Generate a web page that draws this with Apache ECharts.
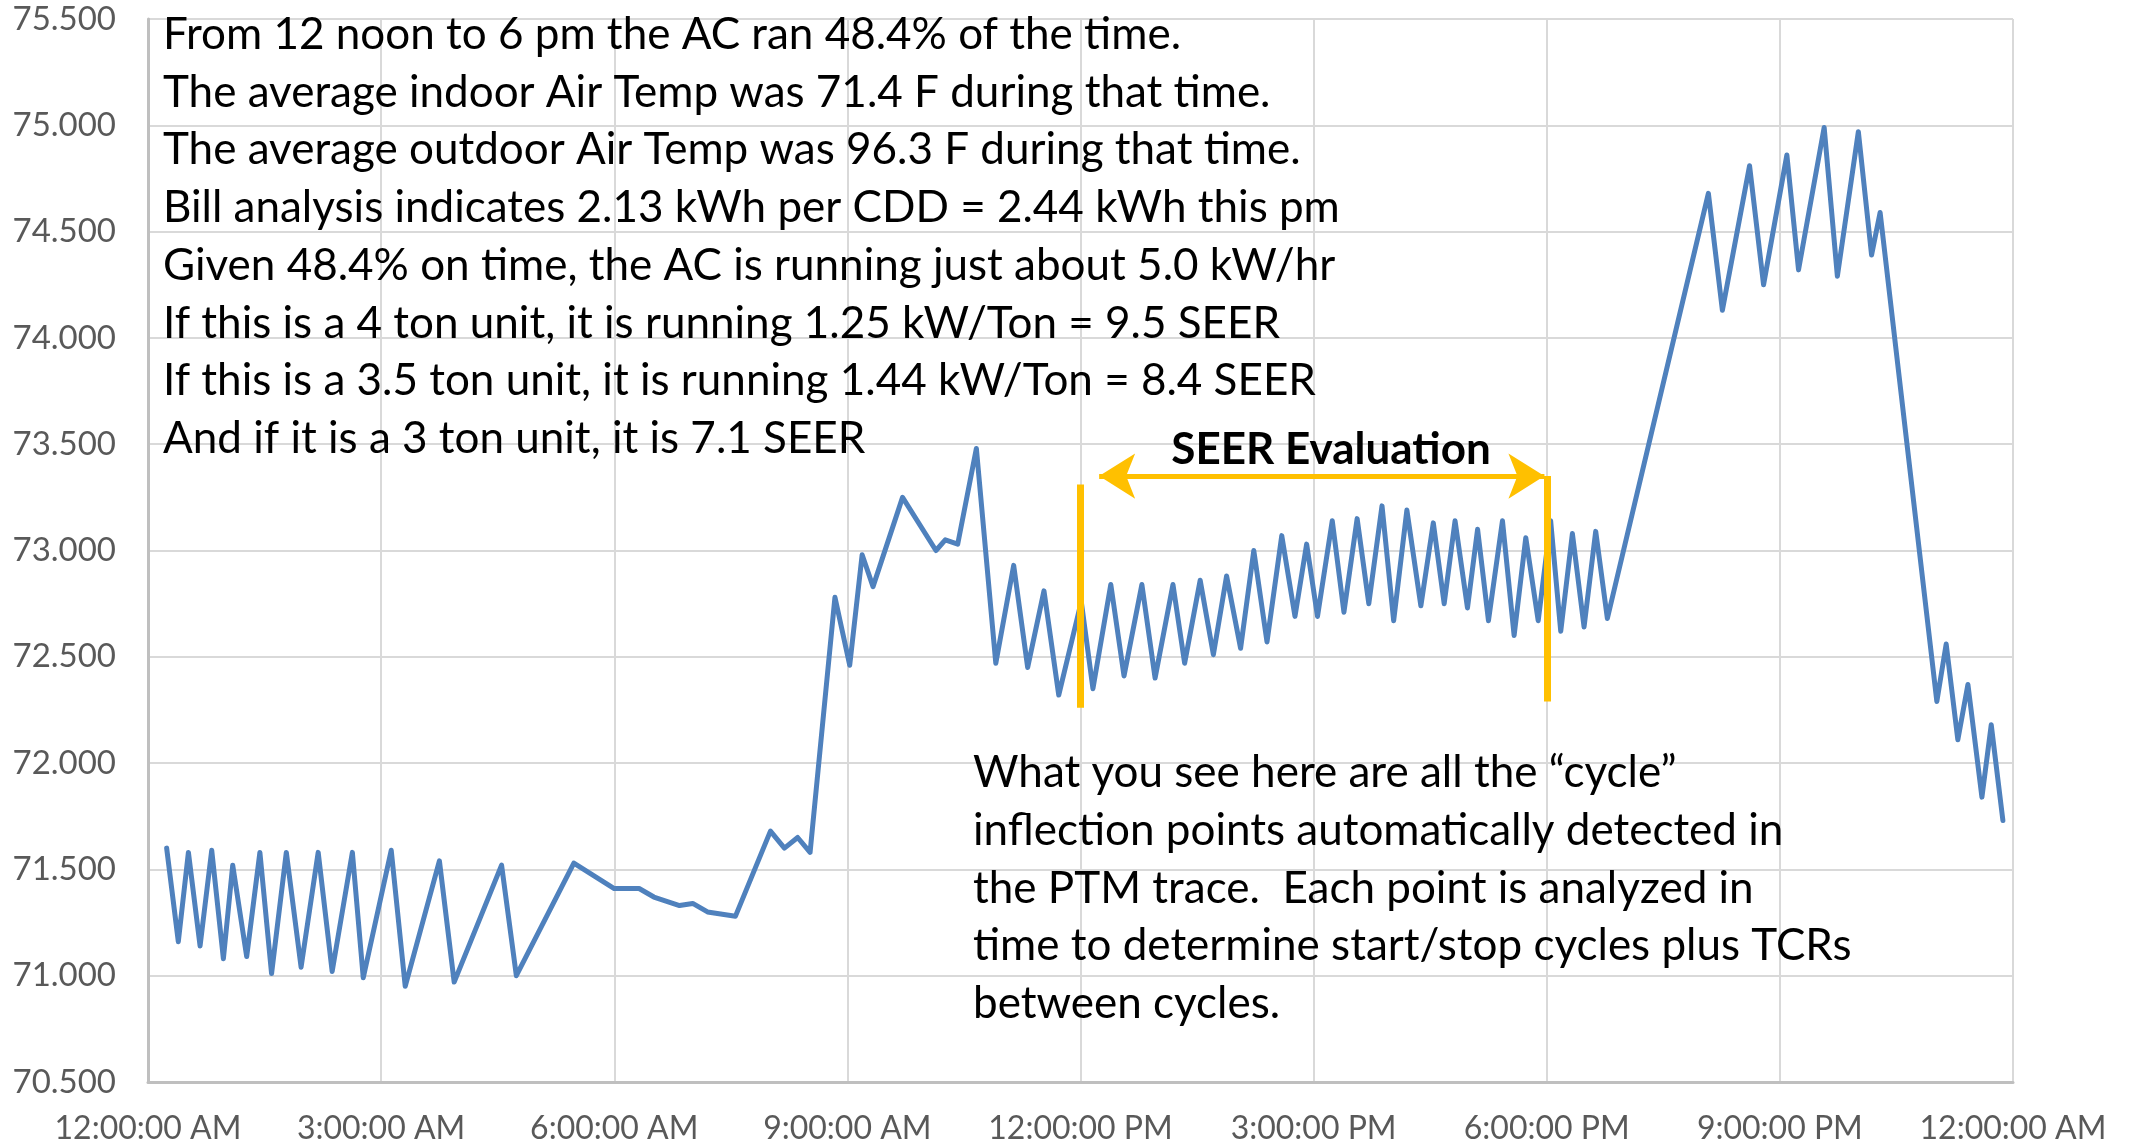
<!DOCTYPE html>
<html>
<head>
<meta charset="utf-8">
<script src="https://cdn.jsdelivr.net/npm/echarts@6/dist/echarts.min.js"></script>
<style>
  html, body { margin: 0; padding: 0; background: #fff; }
  #chart { width: 2133px; height: 1145px; }
</style>
</head>
<body>
<div id="chart"></div>
<script>
// Indoor air temperature trace: inflection points over one day (hours since midnight, °F)
const hours = [
  0.24, 0.39, 0.52, 0.67, 0.82, 0.97, 1.09, 1.27, 1.44, 1.59, 1.78, 1.97, 2.19, 2.37, 2.63, 2.77,
  3.13, 3.31, 3.75, 3.94, 4.55, 4.74, 5.48, 6.00, 6.32, 6.51, 6.84, 7.01, 7.20, 7.56, 8.01, 8.19,
  8.36, 8.52, 8.84, 9.03, 9.19, 9.33, 9.71, 10.14, 10.26, 10.42, 10.66, 10.91, 11.14, 11.32, 11.53,
  11.72, 12.01, 12.16, 12.39, 12.56, 12.79, 12.96, 13.19, 13.34, 13.54, 13.71, 13.88, 14.06, 14.23,
  14.40, 14.59, 14.76, 14.91, 15.05, 15.24, 15.39, 15.56, 15.71, 15.88, 16.03, 16.20, 16.38, 16.54,
  16.68, 16.82, 16.98, 17.11, 17.25, 17.43, 17.58, 17.73, 17.89, 18.05, 18.18, 18.33, 18.48, 18.63,
  18.78, 20.08, 20.26, 20.61, 20.79, 21.09, 21.24, 21.57, 21.74, 22.01, 22.18, 22.29, 23.02, 23.14,
  23.29, 23.42, 23.60, 23.72, 23.87
];
const temps = [
  71.60, 71.16, 71.58, 71.14, 71.59, 71.08, 71.52, 71.09, 71.58, 71.01, 71.58, 71.04, 71.58, 71.02, 71.58, 70.99,
  71.59, 70.95, 71.54, 70.97, 71.52, 71.00, 71.53, 71.41, 71.41, 71.37, 71.33, 71.34, 71.30, 71.28, 71.68, 71.60,
  71.65, 71.58, 72.78, 72.46, 72.98, 72.83, 73.25, 73.00, 73.05, 73.03, 73.48, 72.47, 72.93, 72.45, 72.81,
  72.32, 72.76, 72.35, 72.84, 72.41, 72.84, 72.40, 72.84, 72.47, 72.86, 72.51, 72.88, 72.54, 73.00,
  72.57, 73.07, 72.69, 73.03, 72.69, 73.14, 72.71, 73.15, 72.75, 73.21, 72.67, 73.19, 72.74, 73.13,
  72.75, 73.14, 72.73, 73.10, 72.67, 73.14, 72.60, 73.06, 72.67, 73.14, 72.62, 73.08, 72.64, 73.09,
  72.68, 74.68, 74.13, 74.81, 74.25, 74.86, 74.32, 74.99, 74.29, 74.97, 74.39, 74.59, 72.29, 72.56,
  72.11, 72.37, 71.84, 72.18, 71.73
];

// Time-axis tick labels, one per 3 hours
const timeLabels = [
  '12:00:00 AM', '3:00:00 AM', '6:00:00 AM', '9:00:00 AM', '12:00:00 PM',
  '3:00:00 PM', '6:00:00 PM', '9:00:00 PM', '12:00:00 AM'
];

// SEER evaluation window (hours) and its marker extents (°F)
const seerStartHour = [12.0, 72.26, 73.31];   // [hour, bottom, top]
const seerEndHour = [18.0, 72.29, 73.35];     // [hour, bottom, top]
const seerArrow = [12.24, 17.97, 73.35];      // [from hour, to hour, level]

const notesTop = [
  'From 12 noon to 6 pm the AC ran 48.4% of the time.',
  'The average indoor Air Temp was 71.4 F during that time.',
  'The average outdoor Air Temp was 96.3 F during that time.',
  'Bill analysis indicates 2.13 kWh per CDD = 2.44 kWh this pm',
  'Given 48.4% on time, the AC is running just about 5.0 kW/hr',
  'If this is a 4 ton unit, it is running 1.25 kW/Ton = 9.5 SEER',
  'If this is a 3.5 ton unit, it is running 1.44 kW/Ton = 8.4 SEER',
  'And if it is a 3 ton unit, it is 7.1 SEER'
];
const notesBottom = [
  'What you see here are all the \u201Ccycle\u201D',
  'inflection points automatically detected in',
  'the PTM trace.  Each point is analyzed in',
  'time to determine start/stop cycles plus TCRs',
  'between cycles.'
];

const chart = echarts.init(document.getElementById('chart'), null, { renderer: 'canvas' });

const series = hours.map((h, i) => [h, temps[i]]);
const ORANGE = '#FFC000';
const TEXT_FONT = 'Lato, "Noto Sans", sans-serif';

chart.setOption({
  animation: false,
  backgroundColor: '#ffffff',
  grid: { left: 148, right: 120, top: 19, bottom: 62, containLabel: false },
  xAxis: {
    type: 'value',
    min: 0, max: 24, interval: 3,
    axisLine: { show: true, lineStyle: { color: '#BFBFBF', width: 3 } },
    axisTick: { show: false },
    splitLine: { show: true, lineStyle: { color: '#D9D9D9', width: 2 } },
    axisLabel: {
      margin: 31,
      color: '#595959',
      fontFamily: TEXT_FONT,
      fontSize: 32,
      formatter: v => timeLabels[Math.round(v / 3)]
    }
  },
  yAxis: {
    type: 'value',
    min: 70.5, max: 75.5, interval: 0.5,
    axisLine: { show: true, lineStyle: { color: '#BFBFBF', width: 3 } },
    axisTick: { show: false },
    splitLine: { show: true, lineStyle: { color: '#D9D9D9', width: 2 } },
    axisLabel: {
      margin: 32,
      color: '#595959',
      fontFamily: TEXT_FONT,
      fontSize: 33,
      formatter: v => v.toFixed(3)
    }
  },
  series: [
    {
      type: 'line',
      data: series,
      showSymbol: false,
      lineStyle: { color: '#4F81BD', width: 5, join: 'round', cap: 'round' },
      z: 3
    },
    {
      type: 'line',
      data: [],
      markLine: {
        silent: true,
        animation: false,
        label: { show: false },
        data: [
          [
            { coord: [seerStartHour[0], seerStartHour[1]], symbol: 'none', lineStyle: { width: 7, color: ORANGE, type: 'solid' } },
            { coord: [seerStartHour[0], seerStartHour[2]], symbol: 'none' }
          ],
          [
            { coord: [seerEndHour[0], seerEndHour[1]], symbol: 'none', lineStyle: { width: 7, color: ORANGE, type: 'solid' } },
            { coord: [seerEndHour[0], seerEndHour[2]], symbol: 'none' }
          ],
          [
            { coord: [seerArrow[0], seerArrow[2]], symbol: 'arrow', symbolSize: [34, 36], lineStyle: { width: 5, color: ORANGE, type: 'solid' } },
            { coord: [seerArrow[1], seerArrow[2]], symbol: 'arrow', symbolSize: [34, 36] }
          ]
        ],
        itemStyle: { color: ORANGE }
      },
      z: 4
    }
  ],
  graphic: [
    {
      type: 'text',
      left: 163, top: 6,
      style: {
        text: notesTop.join('\n'),
        font: '44px ' + TEXT_FONT,
        fill: '#000000',
        lineHeight: 57.7
      },
      z: 10
    },
    {
      type: 'text',
      left: 973, top: 744,
      style: {
        text: notesBottom.join('\n'),
        font: '44px ' + TEXT_FONT,
        fill: '#000000',
        lineHeight: 57.8
      },
      z: 10
    },
    {
      type: 'text',
      x: 1331, y: 450,
      style: {
        text: 'SEER Evaluation',
        font: 'bold 44px ' + TEXT_FONT,
        fill: '#000000',
        align: 'center',
        verticalAlign: 'middle'
      },
      z: 10
    }
  ]
});
</script>
</body>
</html>
